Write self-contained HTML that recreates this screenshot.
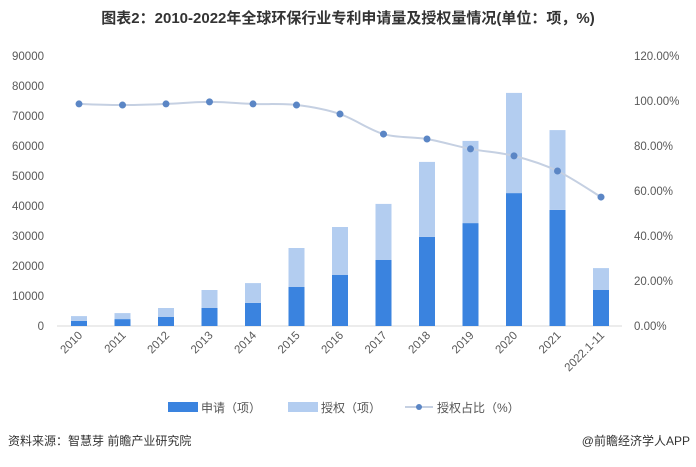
<!DOCTYPE html>
<html><head><meta charset="utf-8"><style>
body{margin:0;background:#fff;width:696px;height:462px;overflow:hidden;font-family:"Liberation Sans","Noto Sans CJK SC",sans-serif}
</style></head><body>
<svg width="696" height="462" id="chart" xmlns="http://www.w3.org/2000/svg" font-family="Liberation Sans, Noto Sans CJK SC, sans-serif">
<text x="348" y="23" text-anchor="middle" font-size="15" font-weight="bold" fill="#333">图表2：2010-2022年全球环保行业专利申请量及授权量情况(单位：项，%)</text>
<g id="axes"></g><g id="bars"></g><g id="line"></g>
<g font-size="12" fill="#555">
<rect x="168" y="402" width="30" height="10" fill="#3a83df"/>
<text x="201" y="412">申请（项）</text>
<rect x="288" y="402" width="30" height="10" fill="#b3cdf0"/>
<text x="321" y="412">授权（项）</text>
<line x1="405" y1="407" x2="433" y2="407" stroke="#c5d0e2" stroke-width="2"/>
<circle cx="419" cy="407" r="3" fill="#5b86c5"/>
<text x="437" y="412">授权占比（%）</text>
</g>
<text x="8" y="445" font-size="12" fill="#333">资料来源：智慧芽 前瞻产业研究院</text>
<text x="690" y="445" font-size="12" fill="#333" text-anchor="end">@前瞻经济学人APP</text>
</svg>
<script>
const categories=["2010","2011","2012","2013","2014","2015","2016","2017","2018","2019","2020","2021","2022.1-11"];
const applyValues=[1700,2300,3000,6000,7700,13000,17000,22000,29700,34300,44300,38700,12000];
const grantValues=[1600,2000,3000,6000,6600,13000,16000,18700,25000,27400,33400,26600,7300];
const ratioValues=[98.7,98.2,98.7,99.6,98.7,98.2,94.2,85.3,83.1,78.7,75.6,68.9,57.3];
const leftTicks=[0,10000,20000,30000,40000,50000,60000,70000,80000,90000];
const rightTicks=[0,20,40,60,80,100,120];
const NS="http://www.w3.org/2000/svg";
const y0=326,yTop=56;
const yL=v=>y0-(v/90000)*(y0-yTop);
const yR=v=>y0-(v/120)*(y0-yTop);
const xC=i=>79+i*43.5;
function mk(t,a,p){const e=document.createElementNS(NS,t);for(const k in a)e.setAttribute(k,a[k]);p.appendChild(e);return e;}
const ax=document.getElementById('axes'),bg=document.getElementById('bars'),lg=document.getElementById('line');
const base=mk('line',{x1:57,y1:y0,x2:622,y2:y0,stroke:'#d9d9d9'},ax);


leftTicks.forEach(v=>{const t=mk('text',{x:44,y:yL(v)+4,'text-anchor':'end','font-size':11.5,fill:'#595959'},ax);t.textContent=v;

});
rightTicks.forEach(v=>{const t=mk('text',{x:634,y:yR(v)+4,'font-size':11.5,fill:'#595959'},ax);t.textContent=v.toFixed(2)+'%';

});
categories.forEach((c,i)=>{const x=xC(i);const t=mk('text',{x:x+4,y:336,'text-anchor':'end','font-size':11.5,fill:'#595959',transform:`rotate(-45 ${x+4} 336)`},ax);t.textContent=c;


const a=applyValues[i],g=grantValues[i];
const r1=mk('rect',{x:x-8,y:yL(a),width:16,height:y0-yL(a),fill:'#3a83df'},bg);


const r2=mk('rect',{x:x-8,y:yL(a+g),width:16,height:yL(a)-yL(a+g),fill:'#b3cdf0'},bg);

});
const pts=ratioValues.map((v,i)=>[xC(i),yR(v)]);
let d='M'+pts[0].join(',');
for(let i=1;i<pts.length;i++){const p0=pts[i-1],p1=pts[i],pm=pts[i-2]||p0,pn=pts[i+1]||p1;
const c1=[p0[0]+(p1[0]-pm[0])/6,p0[1]+(p1[1]-pm[1])/6],c2=[p1[0]-(pn[0]-p0[0])/6,p1[1]-(pn[1]-p0[1])/6];
d+=` C${c1} ${c2} ${p1}`;}
const path=mk('path',{d:d,fill:'none',stroke:'#c5d0e2','stroke-width':2},lg);


pts.forEach(p=>{const c=mk('circle',{cx:p[0],cy:p[1],r:3.5,fill:'#5b86c5'},lg);

});
</script>
</body></html>
